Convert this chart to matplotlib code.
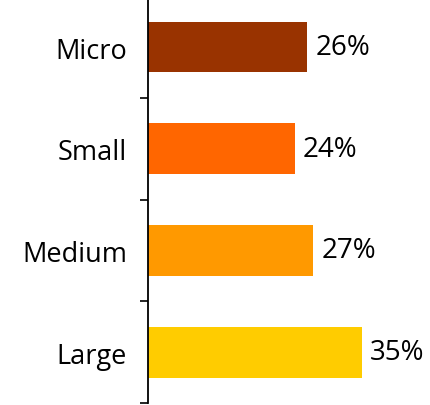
import matplotlib
matplotlib.use("Agg")
import matplotlib.pyplot as plt

# firm size shares
categories = ["Micro", "Small", "Medium", "Large"]
shares = [26, 24, 27, 35]
colors = ["#993300", "#FF6600", "#FF9900", "#FFCC00"]

plt.rcParams['font.family'] = ['Open Sans', 'DejaVu Sans']

fig = plt.figure(figsize=(4.31, 4.06), dpi=100)
ax = fig.add_axes([148 / 431, 2 / 406, 1 - 148 / 431, 406.8 / 406])

# plot top-to-bottom in list order
ypos = list(range(len(categories)))[::-1]
bars = ax.barh(ypos, shares, height=0.5, color=colors)
ax.bar_label(bars, labels=[f"{v}%" for v in shares], padding=6, fontsize=20)

ax.set_xlim(0, 46.3)
ax.set_ylim(-0.5, len(categories) - 0.5)

# ticks sit between the categories, labels in the middle
ax.set_yticks([y - 0.5 for y in range(len(categories) + 1)])
ax.set_yticklabels([])
ax.set_yticks(ypos, labels=categories, minor=True)
ax.tick_params(axis="y", which="major", direction="out", length=6, width=1.2)
ax.tick_params(axis="y", which="minor", length=0, pad=15, labelsize=19.5)
ax.set_xticks([])

for s in ["top", "right", "bottom"]:
    ax.spines[s].set_visible(False)
ax.spines["left"].set_linewidth(1.3)

fig.savefig("out.png", dpi=100)
